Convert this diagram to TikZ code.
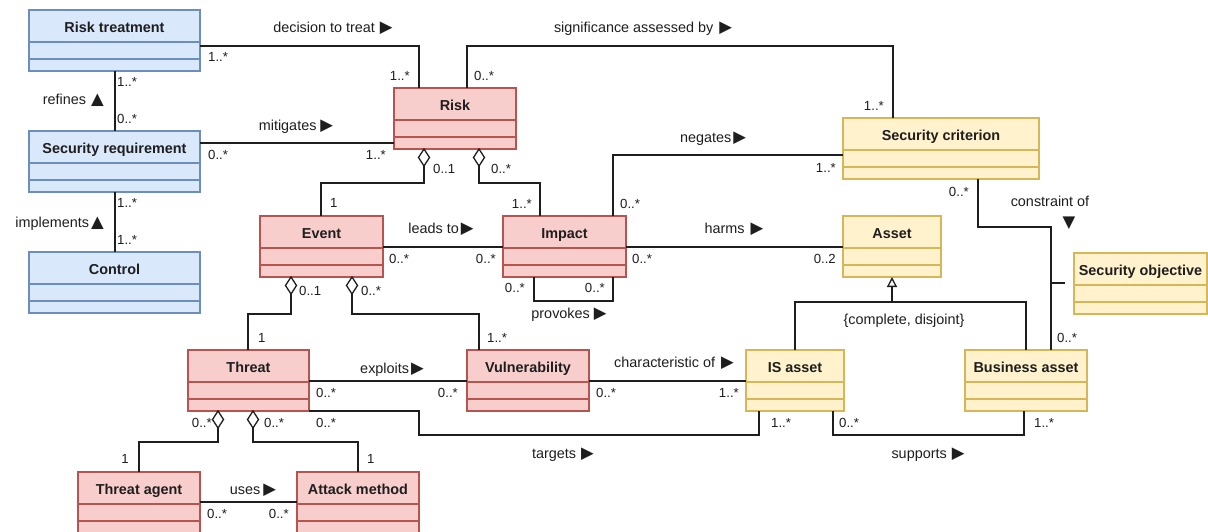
\documentclass[tikz,border=0pt]{standalone}
\usepackage{fontspec}
\setmainfont{Liberation Sans}
\newfontfamily\symfont{DejaVu Sans}
\usetikzlibrary{calc,shapes.geometric,arrows.meta}

\definecolor{bfill}{HTML}{DAE8FC}\definecolor{bline}{HTML}{6C8EBF}
\definecolor{rfill}{HTML}{F8CECC}\definecolor{rline}{HTML}{B85450}
\definecolor{yfill}{HTML}{FFF2CC}\definecolor{yline}{HTML}{D6B656}
\definecolor{ink}{HTML}{1E1E1E}

% direction markers used inside association labels
\newcommand\arR{{\symfont\fontsize{16.5}{16}\selectfont ▶}}
\newcommand\arU{{\symfont\fontsize{16.5}{16}\selectfont ▲}}
\newcommand\arD{{\symfont\fontsize{16.5}{16}\selectfont ▼}}

\tikzset{
  classbox/.style={anchor=north west, inner sep=0pt, outer sep=0pt, line width=1.2pt},
  ctitle/.style={font=\bfseries\fontsize{14.4}{17}\selectfont, inner sep=0pt, anchor=base, text=ink},
  conn/.style={draw=ink, line width=1.3pt},
  mult/.style={font=\fontsize{13.2}{15}\selectfont, inner sep=0pt, text=ink},
  lbl/.style={font=\fontsize{14.4}{17}\selectfont, inner sep=0pt, text=ink, anchor=base},
  agg/.style={shape=diamond, draw=ink, fill=white, line width=1.3pt, inner sep=0pt,
              outer sep=0pt, minimum width=11pt, minimum height=17pt, anchor=north},
}

% UML class: name, colour prefix, x, y (top-left), width, height, title
\newcommand\umlbox[7]{%
  \node[classbox, draw=#2line, fill=#2fill, minimum width=#5pt, minimum height=#6pt] (#1) at (#3,#4) {};
  \node[ctitle] (#1-title) at ($(#1.north)+(0,22)$) {#7};
  \draw[draw=#2line, line width=1.2pt] ($(#1.north west)+(0,32)$) -- ($(#1.north east)+(0,32)$);
  \draw[draw=#2line, line width=1.2pt] ($(#1.north west)+(0,49)$) -- ($(#1.north east)+(0,49)$);
}

\begin{document}
\begin{tikzpicture}[x=1pt,y=-1pt]
\useasboundingbox[fill=white] (0,0) rectangle (1208,531);

% ---------- classes ----------
\umlbox{rt}{b}{29}{10}{171}{61}{Risk treatment}
\umlbox{sr}{b}{29}{131}{171}{61}{Security requirement}
\umlbox{ctrl}{b}{29}{252}{171}{61}{Control}
\umlbox{risk}{r}{394}{88}{122}{61}{Risk}
\umlbox{sc}{y}{843}{118}{196}{61}{Security criterion}
\umlbox{event}{r}{260}{216}{123}{61}{Event}
\umlbox{impact}{r}{503}{216}{123}{61}{Impact}
\umlbox{asset}{y}{843}{216}{98}{61}{Asset}
\umlbox{so}{y}{1074}{253}{133}{61}{Security objective}
\umlbox{threat}{r}{188}{350}{121}{61}{Threat}
\umlbox{vuln}{r}{467}{350}{122}{61}{Vulnerability}
\umlbox{isa}{y}{746}{350}{98}{61}{IS asset}
\umlbox{ba}{y}{965}{350}{122}{61}{Business asset}
\umlbox{ta}{r}{78}{472}{122}{61}{Threat agent}
\umlbox{am}{r}{297}{472}{122}{61}{Attack method}

% ---------- plain associations ----------
\draw[conn] ($(rt.north east)+(0,36)$) -| ($(risk.north west)+(25,0)$);
\draw[conn] ($(risk.north west)+(73,0)$) -- ++(0,-42) -| ($(sc.north west)+(50,0)$);
\draw[conn] ($(sr.north east)+(0,12)$) -- ($(risk.north west)+(0,55)$);
\draw[conn] ($(rt.south west)+(86,0)$) -- ($(sr.north west)+(86,0)$);
\draw[conn] ($(sr.south west)+(86,0)$) -- ($(ctrl.north west)+(86,0)$);
\draw[conn] ($(event.north east)+(0,31)$) -- ($(impact.north west)+(0,31)$);
\draw[conn] ($(impact.north west)+(110,0)$) |- ($(sc.north west)+(0,37)$);
\draw[conn] ($(impact.north east)+(0,31)$) -- ($(asset.north west)+(0,31)$);
\draw[conn] ($(impact.south west)+(31,0)$) -- ++(0,24) -| ($(impact.south west)+(110,0)$);
\draw[conn] ($(sc.south west)+(135,0)$) -- ++(0,48) -| ($(ba.north west)+(86,0)$);
\draw[conn] ($(ba.north west)+(86,-67)$) -- ($(so.north west)+(-9,30)$);
\draw[conn] ($(threat.north east)+(0,31)$) -- ($(vuln.north west)+(0,31)$);
\draw[conn] ($(vuln.north east)+(0,31)$) -- ($(isa.north west)+(0,31)$);
\draw[conn] (threat.south east) -- ($(threat.south east)+(110,0)$) |- ($(isa.south west)+(13,24)$) -- ($(isa.south west)+(13,0)$);
\draw[conn] ($(isa.south west)+(87,0)$) -- ++(0,24) -| ($(ba.south west)+(59,0)$);
\draw[conn] ($(ta.north east)+(0,30)$) -- ($(am.north west)+(0,30)$);

% ---------- aggregations ----------
\node[agg] (dRE) at ($(risk.south west)+(30,0)$) {};
\node[agg] (dRI) at ($(risk.south west)+(85,0)$) {};
\node[agg] (dET) at ($(event.south west)+(31,0)$) {};
\node[agg] (dEV) at ($(event.south west)+(92,0)$) {};
\node[agg] (dTA) at ($(threat.south west)+(30,0)$) {};
\node[agg] (dTM) at ($(threat.south west)+(65,0)$) {};
\draw[conn] (dRE.south) |- ($(event.north west)+(61,-33)$) -- ($(event.north west)+(61,0)$);
\draw[conn] (dRI.south) |- ($(impact.north west)+(37,-33)$) -- ($(impact.north west)+(37,0)$);
\draw[conn] (dET.south) |- ($(threat.north west)+(60,-36)$) -- ($(threat.north west)+(60,0)$);
\draw[conn] (dEV.south) |- ($(vuln.north west)+(12,-36)$) -- ($(vuln.north west)+(12,0)$);
\draw[conn] (dTA.south) |- ($(ta.north west)+(61,-30)$) -- ($(ta.north west)+(61,0)$);
\draw[conn] (dTM.south) |- ($(am.north west)+(61,-30)$) -- ($(am.north west)+(61,0)$);

% ---------- generalisation ----------
\coordinate (gj) at ($(asset.south)+(0,25)$);
\draw[conn] (isa.north) |- (gj) -| (ba.north);
\draw[conn, -{Triangle[open, length=10pt, width=10pt]}] (gj) -- (asset.south);

% ---------- association labels ----------
\node[lbl] (l1) at (333,32) {decision to treat\hspace{5pt}\arR};
\node[lbl] (l2) at (643,32) {significance assessed by\hspace{6pt}\arR};
\node[lbl] (l3) at (296,130) {mitigates\hspace{4pt}\arR};
\node[lbl, anchor=base east] (l4) at (104,104) {refines\hspace{5pt}\arU};
\node[lbl, anchor=base east] (l5) at (104,227) {implements\hspace{2pt}\arU};
\node[lbl] (l6) at (441,233) {leads to\hspace{2pt}\arR};
\node[lbl] (l7) at (713,142) {negates\hspace{2pt}\arR};
\node[lbl] (l8) at (734,233) {harms\hspace{6pt}\arR};
\node[lbl] (l9) at (569,318) {provokes\hspace{4pt}\arR};
\node[lbl] (l10) at (1050,206) {constraint of};
\node[lbl, anchor=center] (l10a) at (1069,223) {\arD};
\node[lbl] (l11) at (904,324) {\{complete, disjoint\}};
\node[lbl] (l12) at (392,373) {exploits\hspace{2pt}\arR};
\node[lbl] (l13) at (674,367) {characteristic of\hspace{6pt}\arR};
\node[lbl] (l14) at (563,458) {targets\hspace{5pt}\arR};
\node[lbl] (l15) at (928,458) {supports\hspace{5pt}\arR};
\node[lbl] (l16) at (253,494) {uses\hspace{3pt}\arR};

% ---------- multiplicities ----------
\node[mult, anchor=base west] at (208,61.5) {1..*};
\node[mult, anchor=base east] at (410,80.5) {1..*};
\node[mult, anchor=base west] at (474,80.5) {0..*};
\node[mult, anchor=base east] at (884,110.5) {1..*};
\node[mult, anchor=base west] at (208,159) {0..*};
\node[mult, anchor=base east] at (386,159) {1..*};
\node[mult, anchor=base west] at (117,86) {1..*};
\node[mult, anchor=base west] at (117,123) {0..*};
\node[mult, anchor=base west] at (117,207) {1..*};
\node[mult, anchor=base west] at (117,244) {1..*};
\node[mult, anchor=base west] at (433,173) {0..1};
\node[mult, anchor=base west] at (330,207) {1};
\node[mult, anchor=base west] at (491,173) {0..*};
\node[mult, anchor=base east] at (532,208) {1..*};
\node[mult, anchor=base west] at (389,263) {0..*};
\node[mult, anchor=base east] at (496,263) {0..*};
\node[mult, anchor=base west] at (620,208) {0..*};
\node[mult, anchor=base east] at (836,172) {1..*};
\node[mult, anchor=base west] at (632,263) {0..*};
\node[mult, anchor=base east] at (836,263) {0..2};
\node[mult, anchor=base east] at (525,292) {0..*};
\node[mult, anchor=base east] at (605,292) {0..*};
\node[mult, anchor=base east] at (969,196) {0..*};
\node[mult, anchor=base west] at (1057,342) {0..*};
\node[mult, anchor=base west] at (299,295) {0..1};
\node[mult, anchor=base west] at (258,342) {1};
\node[mult, anchor=base west] at (361,295) {0..*};
\node[mult, anchor=base west] at (487,342) {1..*};
\node[mult, anchor=base west] at (316,397) {0..*};
\node[mult, anchor=base east] at (458,397) {0..*};
\node[mult, anchor=base west] at (596,397) {0..*};
\node[mult, anchor=base east] at (739,397) {1..*};
\node[mult, anchor=base west] at (316,427) {0..*};
\node[mult, anchor=base west] at (771,427) {1..*};
\node[mult, anchor=base west] at (839,427) {0..*};
\node[mult, anchor=base west] at (1034,427) {1..*};
\node[mult, anchor=base east] at (212,427) {0..*};
\node[mult, anchor=base west] at (264,427) {0..*};
\node[mult, anchor=base east] at (129,463) {1};
\node[mult, anchor=base west] at (367,463) {1};
\node[mult, anchor=base west] at (207,518) {0..*};
\node[mult, anchor=base east] at (289,518) {0..*};
\end{tikzpicture}
\end{document}
